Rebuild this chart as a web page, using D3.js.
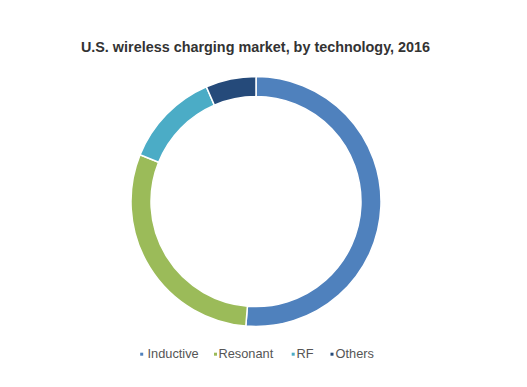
<!DOCTYPE html>
<html>
<head>
<meta charset="utf-8">
<script src="https://cdn.jsdelivr.net/npm/d3@7"></script>
<style>
  body { margin: 0; background: #fff; }
  text { font-family: "Liberation Sans", Arial, sans-serif; }
</style>
</head>
<body>
<div id="chart"></div>
<script>
// data (share of market, %)
var categories = ["Inductive", "Resonant", "RF", "Others"];
var values = [51.3, 29.8, 12.4, 6.5];
var colors = ["#4f81bd", "#9bbb59", "#4bacc6", "#254a7a"];

var width = 527, height = 387;
var cx = 256, cy = 201.5;
var outerR = 125, innerR = 105;

var svg = d3.select("#chart")
  .append("svg")
    .attr("width", width)
    .attr("height", height);

// title
svg.append("text")
  .attr("x", 255.5)
  .attr("y", 52)
  .attr("text-anchor", "middle")
  .style("font-size", "14.4px")
  .style("font-weight", "bold")
  .style("fill", "#333")
  .text("U.S. wireless charging market, by technology, 2016");

var color = d3.scaleOrdinal().domain(categories).range(colors);

var pie = d3.pie().sort(null).value(function(d) { return d.value; });
var arc = d3.arc().innerRadius(innerR).outerRadius(outerR);

var data = categories.map(function(c, i) { return {name: c, value: values[i]}; });

svg.append("g")
  .attr("transform", "translate(" + cx + "," + cy + ")")
  .selectAll("path")
  .data(pie(data))
  .enter()
  .append("path")
    .attr("d", arc)
    .attr("fill", function(d) { return color(d.data.name); })
    .attr("stroke", "#fff")
    .attr("stroke-width", 1.5);

// legend
var legendX = [140.2, 214, 291.7, 330.5];
var textX = [147.5, 218.5, 296.5, 335.5];
var legend = svg.append("g")
  .selectAll("g")
  .data(categories)
  .enter()
  .append("g");

legend.append("rect")
  .attr("x", function(d, i) { return legendX[i]; })
  .attr("y", 352.7)
  .attr("width", 3)
  .attr("height", 3)
  .attr("fill", function(d) { return color(d); });

legend.append("text")
  .attr("x", function(d, i) { return textX[i]; })
  .attr("y", 358)
  .style("font-size", "12.8px")
  .style("fill", "#555")
  .text(function(d) { return d; });
</script>
</body>
</html>
